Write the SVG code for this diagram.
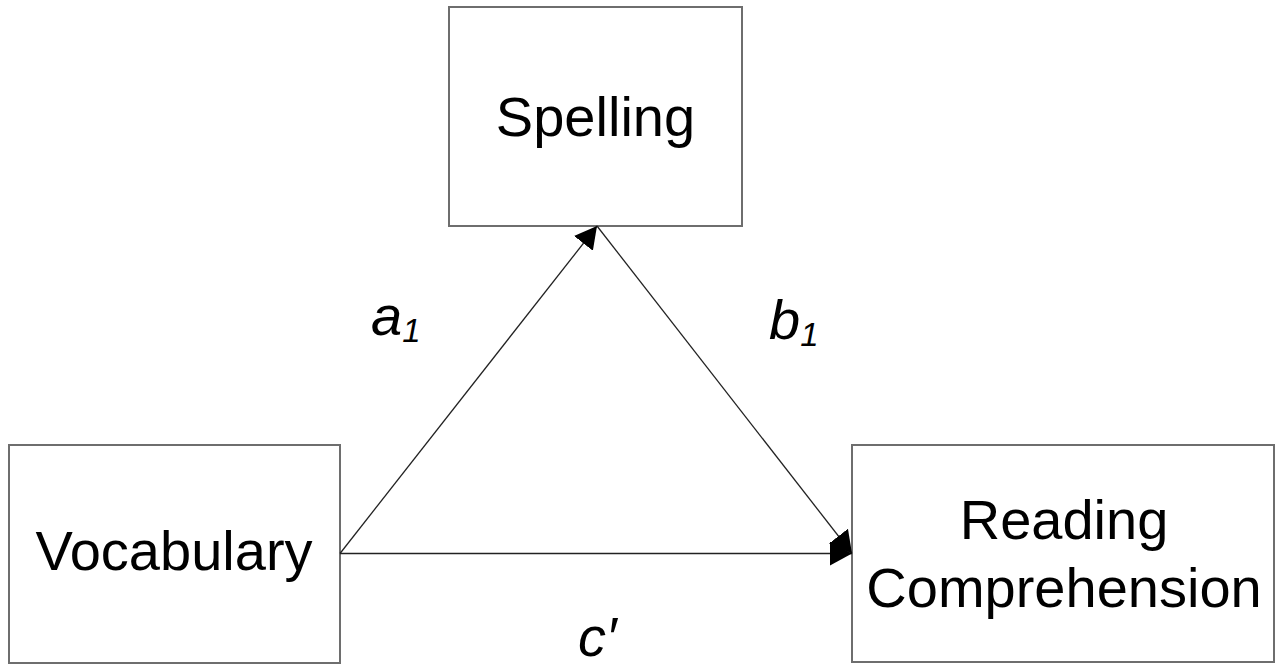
<svg xmlns="http://www.w3.org/2000/svg" width="1283" height="666" viewBox="0 0 1283 666">
  <style>
    .box { fill: #ffffff; stroke: #6e6e6e; stroke-width: 2; }
    .label { font-family: "Liberation Sans", Arial, sans-serif; font-size: 56px; fill: #000000; text-anchor: middle; }
    .path { font-family: "Liberation Sans", Arial, sans-serif; font-style: italic; font-size: 56px; fill: #000000; }
    .sub { font-size: 33px; }
    .edge { stroke: #222222; stroke-width: 1.3; fill: none; }
  </style>
  <defs>
    <marker id="head" markerUnits="userSpaceOnUse" viewBox="0 0 22 24" refX="22" refY="12" markerWidth="22" markerHeight="24" orient="auto">
      <path d="M0,0 L22,12 L0,24 Z" fill="#000000"/>
    </marker>
  </defs>

  <rect width="1283" height="666" fill="#ffffff"/>

  <g id="spelling">
    <rect class="box" x="449" y="7" width="293" height="219"/>
    <text class="label" x="595.5" y="136">Spelling</text>
  </g>

  <g id="vocabulary">
    <rect class="box" x="9" y="445" width="331" height="218"/>
    <text class="label" x="174" y="570">Vocabulary</text>
  </g>

  <g id="reading-comprehension">
    <rect class="box" x="852" y="445" width="422" height="217"/>
    <text class="label" x="1064" y="539">Reading</text>
    <text class="label" x="1064" y="607">Comprehension</text>
  </g>

  <g id="connectors">
    <line class="edge" x1="340" y1="553.5" x2="597" y2="226" marker-end="url(#head)"/>
    <line class="edge" x1="597" y1="226" x2="852" y2="553.5" marker-end="url(#head)"/>
    <line class="edge" x1="340" y1="553.5" x2="852" y2="553.5" marker-end="url(#head)"/>
  </g>

  <g id="path-labels">
    <text class="path" x="371" y="335">a<tspan class="sub" dy="7">1</tspan></text>
    <text class="path" x="769" y="339">b<tspan class="sub" dy="7">1</tspan></text>
    <text class="path" x="578" y="656">c′</text>
  </g>
</svg>
